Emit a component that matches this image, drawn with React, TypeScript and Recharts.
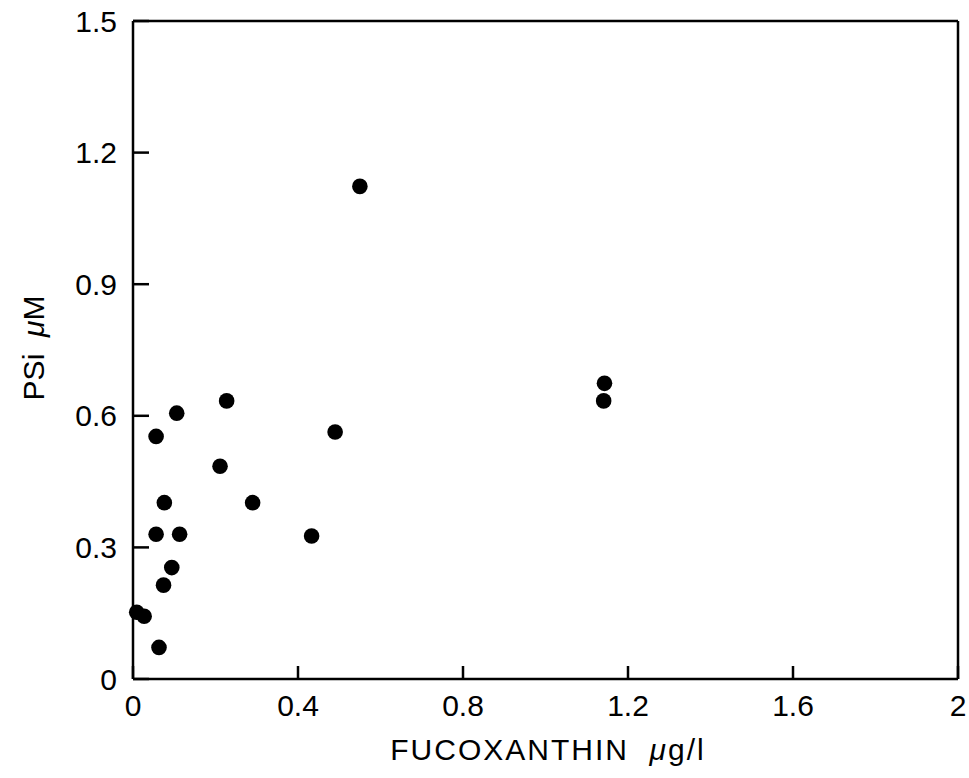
import { ScatterChart, Scatter, XAxis, YAxis, ReferenceLine } from 'recharts';

// FUCOXANTHIN (ug/l) vs PSi (uM)
const fucoxanthin = [0.55, 1.143, 1.141, 0.106, 0.227, 0.056, 0.49, 0.211, 0.076, 0.29, 0.056, 0.113, 0.433, 0.094, 0.074, 0.009, 0.027, 0.063];
const psi = [1.123, 0.674, 0.634, 0.606, 0.634, 0.553, 0.563, 0.485, 0.402, 0.402, 0.33, 0.33, 0.326, 0.254, 0.214, 0.152, 0.143, 0.072];

const xTicks = [0, 0.4, 0.8, 1.2, 1.6, 2];
const yTicks = [0, 0.3, 0.6, 0.9, 1.2, 1.5];

const points = fucoxanthin.map((x, i) => ({ x, y: psi[i] }));

const font = '"Liberation Sans", Arial, sans-serif';
const tickStyle = { fill: '#000', fontSize: 30, fontFamily: font };

const Dot = (p: any) => <circle cx={p.cx} cy={p.cy} r={7.8} fill="#000" />;

export default function App() {
  return (
    <div style={{ position: 'absolute', left: 0, top: 0, background: '#fff' }}>
      <ScatterChart width={969} height={778} margin={{ top: 21, right: 11, bottom: 0, left: 0 }}>
        <XAxis
          type="number"
          dataKey="x"
          domain={[0, 2]}
          ticks={xTicks}
          height={99}
          tick={tickStyle}
          tickSize={-13}
          tickMargin={29}
          axisLine={{ stroke: '#000', strokeWidth: 2.5 }}
          tickLine={{ stroke: '#000', strokeWidth: 2.5 }}
          label={{
            content: () => (
              <text x={548} y={760} textAnchor="middle" fontSize={30} fontFamily={font} letterSpacing={2} fill="#000">
                FUCOXANTHIN{'\u00a0\u00a0'}
                <tspan fontStyle="italic">μ</tspan>g/l
              </text>
            ),
          }}
        />
        <YAxis
          type="number"
          dataKey="y"
          domain={[0, 1.5]}
          ticks={yTicks}
          width={133}
          tick={tickStyle}
          tickSize={-16}
          tickMargin={32}
          axisLine={{ stroke: '#000', strokeWidth: 2.5 }}
          tickLine={{ stroke: '#000', strokeWidth: 2.5 }}
          label={{
            content: () => (
              <text x={44} y={348} transform="rotate(-90 44 348)" textAnchor="middle" fontSize={30} fontFamily={font} fill="#000">
                PSi{'\u00a0\u00a0'}
                <tspan fontStyle="italic">μ</tspan>M
              </text>
            ),
          }}
        />
        <ReferenceLine y={1.5} stroke="#000" strokeWidth={2.5} />
        <ReferenceLine x={2} stroke="#000" strokeWidth={2.5} />
        <Scatter data={points} fill="#000" shape={Dot} isAnimationActive={false} />
      </ScatterChart>
    </div>
  );
}
